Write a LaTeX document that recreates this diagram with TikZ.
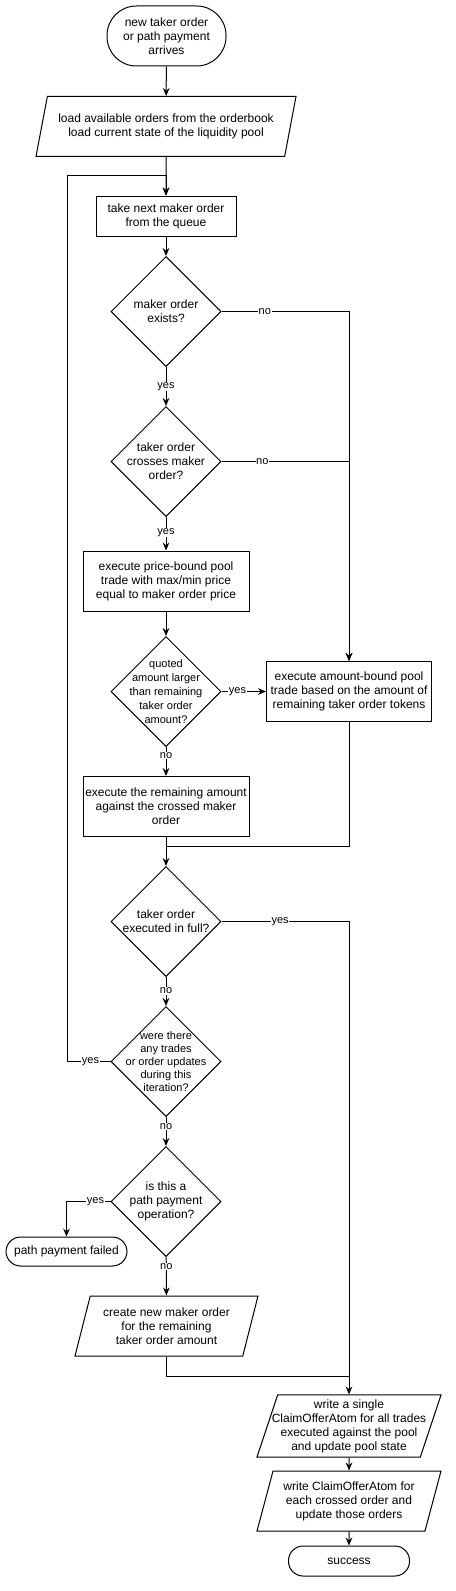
\documentclass[tikz,border=0pt]{standalone}
\usepackage{fontspec}
\setmainfont{Liberation Sans}
\usepackage{tikz}
\usetikzlibrary{arrows.meta, shapes, calc}
\tikzset{
	every node/.style={
		font=\fontsize{9pt}{10.5pt}\selectfont
	},
	process/.style={
		shape=rectangle,
		minimum width=124.5pt,
		minimum height=45pt,
		inner sep=1pt,
		align=center,
		draw,
	},
	decision/.style={
		shape=diamond,
		minimum width=82.5pt,
		minimum height=82.5pt,
		inner sep=-20pt,
		align=center,
		draw,
	},
	smalltext/.style={
		font=\fontsize{8.25pt}{10.5pt}\selectfont
	},
	io/.style={
		shape=trapezium,
		trapezium left angle=71.57,
		trapezium right angle=108.43,
		trapezium stretches body,
		minimum height=45pt,
		inner xsep=-10pt,
		align=center,
		draw,
	},
	terminal/.style={
		shape=rectangle,
		minimum width=90.75pt,
		minimum height=22.5pt,
		rounded corners=11pt,
		align=center,
		draw,
	},
	lbl/.style={
		fill=white,
		inner sep=0.5pt,
		font=\fontsize{8.25pt}{9pt}\selectfont
	},
	myarrow/.style={-{Stealth[length=6pt, width=5pt, inset=2pt]}},
}

\begin{document}
\begin{tikzpicture}[x=0.75pt, y=-0.75pt, line width=0.75pt]
	\useasboundingbox (0,0) rectangle (455,1591);
	
	\node[terminal, minimum width=89.25pt, minimum height=45pt, rounded corners=22pt] (start) at (166.5,36) {new taker order\\or path payment\\arrives};
	\node[io, minimum width=195pt] (load) at (166,126.5) {load available orders from the orderbook\\load current state of the liquidity pool};
	\node[process, minimum width=105pt, minimum height=30pt] (take) at (166,216) {take next maker order\\from the queue};
	\node[decision] (exists) at (166,311.5) {maker order\\exists?};
	\node[decision] (crosses) at (166,461.5) {taker order\\crosses maker\\order?};
	\node[process] (price) at (166,581) {execute price-bound pool\\trade with max/min price\\equal to maker order price};
	\node[decision, smalltext] (quoted) at (166,691.5) {quoted\\amount larger\\than remaining\\taker order\\amount?};
	\node[process, minimum width=123.75pt] (amount) at (349,691.5) {execute amount-bound pool\\trade based on the amount of\\remaining taker order tokens};
	\node[process] (remain) at (166,806.5) {execute the remaining amount\\against the crossed maker\\order};
	\node[decision] (full) at (166,921.5) {taker order\\executed in full?};
	\node[decision, font=\fontsize{8.25pt}{9.75pt}\selectfont] (trades) at (166,1061.5) {were there\\any trades\\or order updates\\during this\\iteration?};
	\node[decision] (path) at (166,1201.5) {is this a\\path payment\\operation?};
	\node[terminal, minimum height=21.75pt] (failed) at (66.5,1251.5) {path payment failed};
	\node[io, minimum width=137.25pt] (create) at (166.5,1326) {create new maker order\\for the remaining\\taker order amount};
	\node[io, minimum width=138pt] (single) at (349,1426) {write a single\\ClaimOfferAtom for all trades\\executed against the pool\\and update pool state};
	\node[io, minimum width=138pt] (each) at (349,1501) {write ClaimOfferAtom for\\each crossed order and\\update those orders};
	\node[terminal] (success) at (349,1561) {success};
	
	\coordinate (loop) at (67,176);
	\coordinate (merge) at (166,846);
	\coordinate (join) at (349,1376);
	
	\foreach \a/\b in {start/load, load/take, take/exists, price/quoted, remain/full, single/each, each/success}
		\draw[myarrow] (\a) -- (\b);
	
	\foreach \a/\b/\t/\p in {exists/crosses/yes/0.5, crosses/price/yes/0.46, quoted/remain/no/0.3, full/trades/no/0.48, trades/path/no/0.33, path/create/no/0.25}
		\draw[myarrow] (\a) -- node[lbl, pos=\p] {\t} (\b);
	
	\draw[myarrow] (exists.east) -| node[lbl, pos=0.17] {no} (amount.north);
	\draw[myarrow] (crosses.east) -| node[lbl, pos=0.16] {no} (amount.north);
	\draw[myarrow] (quoted.east) -- node[lbl, pos=0.36] {yes} (amount.west);
	\draw (amount.south) |- (merge);
	\draw[myarrow] (full.east) -| node[lbl, pos=0.23] {yes} (single.north);
	\draw[myarrow] (trades.west) -| node[lbl, pos=0.23] {yes} (loop) -| (take.north);
	\draw[myarrow] (path.west) -| node[lbl, pos=0.17] {yes} (failed.north);
	\draw (create.south) |- (join);
	
\end{tikzpicture}
\end{document}
